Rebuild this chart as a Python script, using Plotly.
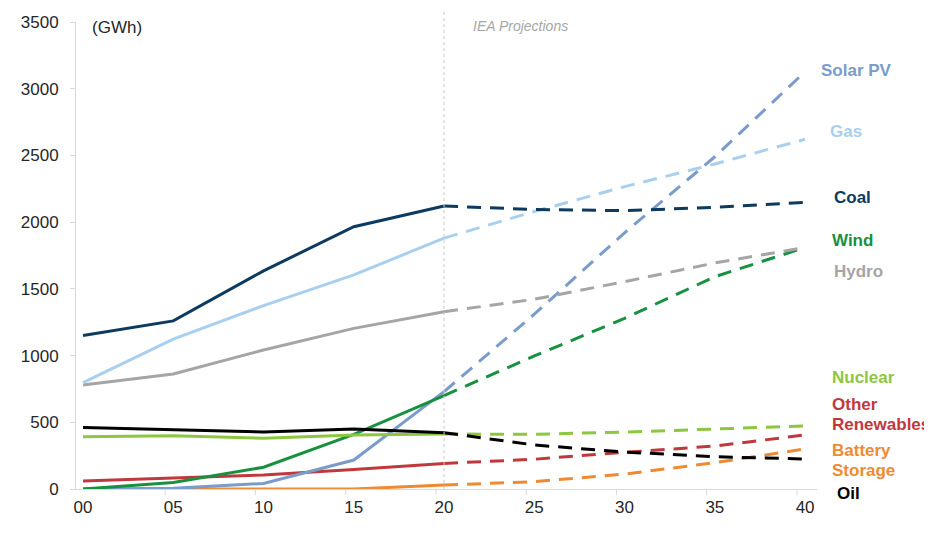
import plotly.graph_objects as go

# ---- data ----
hist_years = [0, 5, 10, 15, 20]
proj_years = [20, 25, 30, 35, 40]
tick_vals = [0, 5, 10, 15, 20, 25, 30, 35, 40]
tick_text = ["00", "05", "10", "15", "20", "25", "30", "35", "40"]

series_names = ["Coal", "Gas", "Hydro", "Oil", "Nuclear", "Wind", "Solar PV",
                "Other Renewables", "Battery Storage"]

coal_hist = [1150, 1260, 1635, 1966, 2121]
coal_proj = [2121, 2095, 2086, 2111, 2149]
gas_hist = [797, 1124, 1375, 1605, 1880]
gas_proj = [1880, 2080, 2266, 2436, 2621]
hydro_hist = [779, 862, 1042, 1204, 1329]
hydro_proj = [1329, 1422, 1554, 1694, 1810]
oil_hist = [460, 442, 427, 450, 422]
oil_proj = [422, 330, 277, 242, 225]
nuclear_hist = [392, 400, 380, 405, 412]
nuclear_proj = [412, 410, 427, 447, 472]
wind_hist = [0, 48, 163, 410, 700]
wind_proj = [700, 997, 1279, 1591, 1810]
solar_hist = [0, 5, 42, 217, 730]
solar_proj = [730, 1310, 1920, 2490, 3128]
other_hist = [60, 80, 105, 147, 192]
other_proj = [192, 223, 275, 322, 405]
battery_hist = [0, 0, 0, 0, 30]
battery_proj = [30, 55, 112, 197, 300]

colors = {
    "Coal": "#0c3b5f",
    "Gas": "#a8d0ee",
    "Hydro": "#a5a5a5",
    "Oil": "#000000",
    "Nuclear": "#8dc63f",
    "Wind": "#17913f",
    "Solar PV": "#7a9cca",
    "Other Renewables": "#c1383c",
    "Battery Storage": "#f08a30",
}

data = {
    "Coal": (coal_hist, coal_proj),
    "Gas": (gas_hist, gas_proj),
    "Hydro": (hydro_hist, hydro_proj),
    "Oil": (oil_hist, oil_proj),
    "Nuclear": (nuclear_hist, nuclear_proj),
    "Wind": (wind_hist, wind_proj),
    "Solar PV": (solar_hist, solar_proj),
    "Other Renewables": (other_hist, other_proj),
    "Battery Storage": (battery_hist, battery_proj),
}

# label text lines, page-pixel placement (left x, centre y)
labels = [
    ("Solar PV", "Solar PV", 819, 70),
    ("Gas", "Gas", 828, 131),
    ("Coal", "Coal", 832, 197),
    ("Wind", "Wind", 830, 240),
    ("Hydro", "Hydro", 832, 271),
    ("Nuclear", "Nuclear", 830, 377),
    ("Other Renewables", "Other", 830, 404),
    ("Other Renewables", "Renewables", 830, 424),
    ("Battery Storage", "Battery", 830, 450),
    ("Battery Storage", "Storage", 830, 470),
    ("Oil", "Oil", 835, 493),
]

OFF = 8  # page body margin
W, H = 932 - OFF, 535 - OFF
PL, PR, PT, PB = 76, 817, 22, 489  # plot area in page pixels
ML, MT = PL - OFF, PT - OFF
MR, MB = W - (PR - OFF), H - (PB - OFF)
PW, PH = PR - PL, PB - PT


def px_x(px):
    return (px - PL) / PW


def px_y(py):
    return (PB - py) / PH


fig = go.Figure()
order = ["Battery Storage", "Other Renewables", "Solar PV", "Wind", "Nuclear",
         "Oil", "Hydro", "Gas", "Coal"]
for name in order:
    h, p = data[name]
    fig.add_trace(go.Scatter(x=hist_years, y=h, mode="lines", name=name,
                             line=dict(color=colors[name], width=3),
                             showlegend=False))
    fig.add_trace(go.Scatter(x=proj_years, y=p, mode="lines", name=name,
                             line=dict(color=colors[name], width=3, dash="14px,9px"),
                             showlegend=False))

# projection divider
fig.add_shape(type="line", xref="x", yref="paper", x0=20, x1=20, y0=0,
              y1=px_y(10), line=dict(color="#c8c8c8", width=1, dash="dot"))

# x tick marks (offset slightly left of labels as in original)
for v in tick_vals:
    fig.add_shape(type="line", xref="x", yref="paper", x0=v - 0.45, x1=v - 0.45,
                  y0=0, y1=-6 / PH, line=dict(color="#d9d9d9", width=1))

annotations = []
for key, txt, px, py in labels:
    annotations.append(dict(text="<b>%s</b>" % txt, xref="paper", yref="paper",
                            x=px_x(px), y=px_y(py),
                            xanchor="left", yanchor="middle", showarrow=False,
                            font=dict(family="Liberation Sans, Arial", size=17,
                                      color=colors[key])))
annotations.append(dict(text="(GWh)", xref="paper", yref="paper",
                        x=px_x(90), y=px_y(28),
                        xanchor="left", yanchor="middle", showarrow=False,
                        font=dict(family="Liberation Sans, Arial", size=17, color="#262626")))
annotations.append(dict(text="<i>IEA Projections</i>", xref="paper", yref="paper",
                        x=px_x(471), y=px_y(26),
                        xanchor="left", yanchor="middle", showarrow=False,
                        font=dict(family="Liberation Sans, Arial", size=14, color="#a6a6a6")))

fig.update_layout(
    width=W, height=H,
    margin=dict(l=ML, r=MR, t=MT, b=MB, pad=0, autoexpand=False),
    paper_bgcolor="white", plot_bgcolor="white",
    annotations=annotations,
    font=dict(family="Liberation Sans, Arial", color="#262626"),
    xaxis=dict(range=[-0.39, 40.66], tickvals=tick_vals, ticktext=tick_text,
               showgrid=False, zeroline=False, showline=True, linecolor="#d9d9d9",
               linewidth=1, ticks="", tickfont=dict(size=17, color="#262626"),
               ticklabelstandoff=3, automargin=False),
    yaxis=dict(range=[0, 3500], tickvals=[0, 500, 1000, 1500, 2000, 2500, 3000, 3500],
               showgrid=False, zeroline=False, showline=True, linecolor="#d9d9d9",
               linewidth=1, ticks="outside", ticklen=5, tickcolor="#d9d9d9",
               tickfont=dict(size=17, color="#262626"), ticklabelstandoff=8,
               automargin=False),
)

fig.write_html("out.html")
